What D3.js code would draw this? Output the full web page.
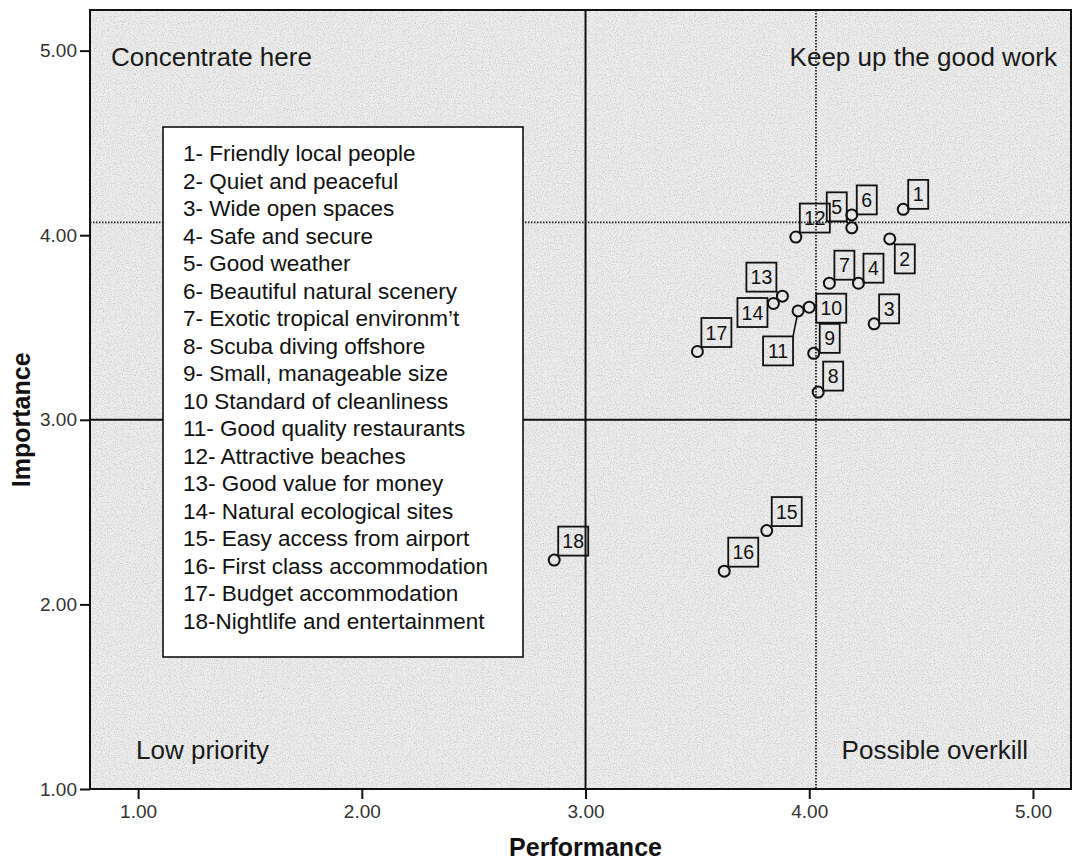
<!DOCTYPE html>
<html>
<head>
<meta charset="utf-8">
<script src="https://cdn.jsdelivr.net/npm/d3@7"></script>
<style>
  html, body { margin: 0; padding: 0; background: #fff; }
  svg { display: block; font-family: "Liberation Sans", Arial, sans-serif; }
</style>
</head>
<body>
<svg id="chart" width="1073" height="863"></svg>
<script>
// ---- data ----
const attributeIds = [1,2,3,4,5,6,7,8,9,10,11,12,13,14,15,16,17,18];
const attributeNames = [
  "1- Friendly local people",
  "2- Quiet and peaceful",
  "3- Wide open spaces",
  "4- Safe and secure",
  "5- Good weather",
  "6- Beautiful natural scenery",
  "7- Exotic tropical environm\u2019t",
  "8- Scuba diving offshore",
  "9- Small, manageable size",
  "10 Standard of cleanliness",
  "11- Good quality restaurants",
  "12- Attractive beaches",
  "13- Good value for money",
  "14- Natural ecological sites",
  "15- Easy access from airport",
  "16- First class accommodation",
  "17- Budget accommodation",
  "18-Nightlife and entertainment"
];
const performance = [4.42,4.36,4.29,4.22,4.19,4.19,4.09,4.04,4.02,4.00,3.95,3.94,3.88,3.84,3.81,3.62,3.50,2.86];
const importance  = [4.14,3.98,3.52,3.74,4.04,4.11,3.74,3.15,3.36,3.61,3.59,3.99,3.67,3.63,2.40,2.18,3.37,2.24];
const xTicks = [1,2,3,4,5];
const yTicks = [1,2,3,4,5];
const midPerformance = 3.0, midImportance = 3.0;
const refPerformance = 4.03, refImportance = 4.07;
const quadrantLabels = ["Concentrate here","Keep up the good work","Low priority","Possible overkill"];

// ---- layout (label placement offsets in px, box centre relative to point) ----
const labelOffsets = [
  [15,-15],[15,20],[15,-15],[15,-15],[-15,-21],[15,-15],[15,-18],[15,-16],[16,-15],
  [22,1],[-20,40],[19,-19],[-21,-19],[-21,9],[20,-19],[19,-19],[19,-19],[19,-19]
];

const svg = d3.select("#chart");
const L = 90, R = 1071, T = 10, B = 789;
const x = d3.scaleLinear().domain([0.785, 5.17]).range([L, R]);
const y = d3.scaleLinear().domain([1, 5.22]).range([B, T]);

// background texture
const defs = svg.append("defs");
const f = defs.append("filter").attr("id","grain").attr("x",0).attr("y",0).attr("width","100%").attr("height","100%");
f.append("feTurbulence").attr("type","fractalNoise").attr("baseFrequency","0.85").attr("numOctaves",2).attr("seed",3).attr("result","n");
f.append("feColorMatrix").attr("type","matrix")
  .attr("values","0 0 0 0 0  0 0 0 0 0  0 0 0 0 0  0 0 0 -1.8 1.0").attr("result","a");
f.append("feComposite").attr("in","a").attr("in2","SourceGraphic").attr("operator","in");

svg.append("rect").attr("x",L).attr("y",T).attr("width",R-L).attr("height",B-T).attr("fill","#eeeeee");
svg.append("rect").attr("x",L).attr("y",T).attr("width",R-L).attr("height",B-T)
  .attr("fill","#fff").attr("opacity",0.22).attr("filter","url(#grain)");

// reference dotted lines
svg.append("line").attr("x1",x(refPerformance)).attr("x2",x(refPerformance)).attr("y1",T).attr("y2",B)
  .attr("stroke","#222").attr("stroke-width",1.8).attr("stroke-dasharray","1.5,1.5");
svg.append("line").attr("x1",L).attr("x2",R).attr("y1",y(refImportance)).attr("y2",y(refImportance))
  .attr("stroke","#222").attr("stroke-width",1.8).attr("stroke-dasharray","1.5,1.5");

// quadrant solid lines
svg.append("line").attr("x1",x(midPerformance)).attr("x2",x(midPerformance)).attr("y1",T).attr("y2",B)
  .attr("stroke","#111").attr("stroke-width",2);
svg.append("line").attr("x1",L).attr("x2",R).attr("y1",y(midImportance)).attr("y2",y(midImportance))
  .attr("stroke","#111").attr("stroke-width",2);

// frame
svg.append("rect").attr("x",L).attr("y",T).attr("width",R-L).attr("height",B-T)
  .attr("fill","none").attr("stroke","#111").attr("stroke-width",2);

// axes
const fmt = d3.format(".2f");
const yAxis = svg.append("g").attr("transform",`translate(${L},0)`)
  .call(d3.axisLeft(y).tickValues(yTicks).tickFormat(fmt).tickSize(10).tickPadding(3));
const xAxis = svg.append("g").attr("transform",`translate(0,${B})`)
  .call(d3.axisBottom(x).tickValues(xTicks).tickFormat(fmt).tickSize(10).tickPadding(6));
[yAxis, xAxis].forEach(a => {
  a.select(".domain").remove();
  a.selectAll(".tick line").attr("stroke","#111").attr("stroke-width",2);
  a.selectAll(".tick text").attr("fill","#333").style("font-size","19px").style("font-family","Liberation Sans, Arial, sans-serif");
});

// axis titles
svg.append("text").attr("x",x(3)).attr("y",856).attr("text-anchor","middle")
  .style("font-size","25px").style("font-weight","bold").attr("fill","#111").text("Performance");
svg.append("text").attr("transform",`translate(30,${y(3)}) rotate(-90)`).attr("text-anchor","middle")
  .style("font-size","25px").style("font-weight","bold").attr("fill","#111").text("Importance");

// quadrant labels
const qFont = "26px";
svg.append("text").attr("x",111).attr("y",66).style("font-size",qFont).attr("fill","#1a1a1a").text(quadrantLabels[0]);
svg.append("text").attr("x",1057).attr("y",66).attr("text-anchor","end").style("font-size",qFont).attr("fill","#1a1a1a").text(quadrantLabels[1]);
svg.append("text").attr("x",136).attr("y",759).style("font-size",qFont).attr("fill","#1a1a1a").text(quadrantLabels[2]);
svg.append("text").attr("x",1028).attr("y",759).attr("text-anchor","end").style("font-size",qFont).attr("fill","#1a1a1a").text(quadrantLabels[3]);

// legend box
const lg = svg.append("g");
lg.append("rect").attr("x",163).attr("y",127).attr("width",360).attr("height",530)
  .attr("fill","#fff").attr("stroke","#111").attr("stroke-width",1.6);
lg.selectAll("text").data(attributeNames).join("text")
  .attr("x",183).attr("y",(d,i)=>161 + i*27.5)
  .style("font-size","22.5px").attr("fill","#111").text(d=>d);

// points + labels
const pts = attributeIds.map((id,i)=>({id, px:x(performance[i]), py:y(importance[i]), off:labelOffsets[i]}));
const r = 5.5;
const g = svg.append("g");
pts.forEach(p => {
  const w = p.id >= 10 ? 30 : 20, h = 29;
  const cx = p.px + p.off[0], cy = p.py + p.off[1];
  const bx0 = cx - w/2, bx1 = cx + w/2, by0 = cy - h/2, by1 = cy + h/2;
  const nx = Math.max(bx0, Math.min(p.px, bx1)), ny = Math.max(by0, Math.min(p.py, by1));
  const dx = nx - p.px, dy = ny - p.py, dist = Math.hypot(dx,dy);
  if (dist > r) {
    g.append("line").attr("x1",p.px + dx/dist*r).attr("y1",p.py + dy/dist*r).attr("x2",nx).attr("y2",ny)
      .attr("stroke","#111").attr("stroke-width",1.6);
  }
  g.append("rect").attr("x",bx0).attr("y",by0).attr("width",w).attr("height",h)
    .attr("fill","none").attr("stroke","#111").attr("stroke-width",1.8);
  g.append("text").attr("x",cx).attr("y",cy+7).attr("text-anchor","middle")
    .style("font-size","19.5px").attr("fill","#111").text(p.id);
  g.append("circle").attr("cx",p.px).attr("cy",p.py).attr("r",r)
    .attr("fill","none").attr("stroke","#111").attr("stroke-width",2);
});
</script>
</body>
</html>
